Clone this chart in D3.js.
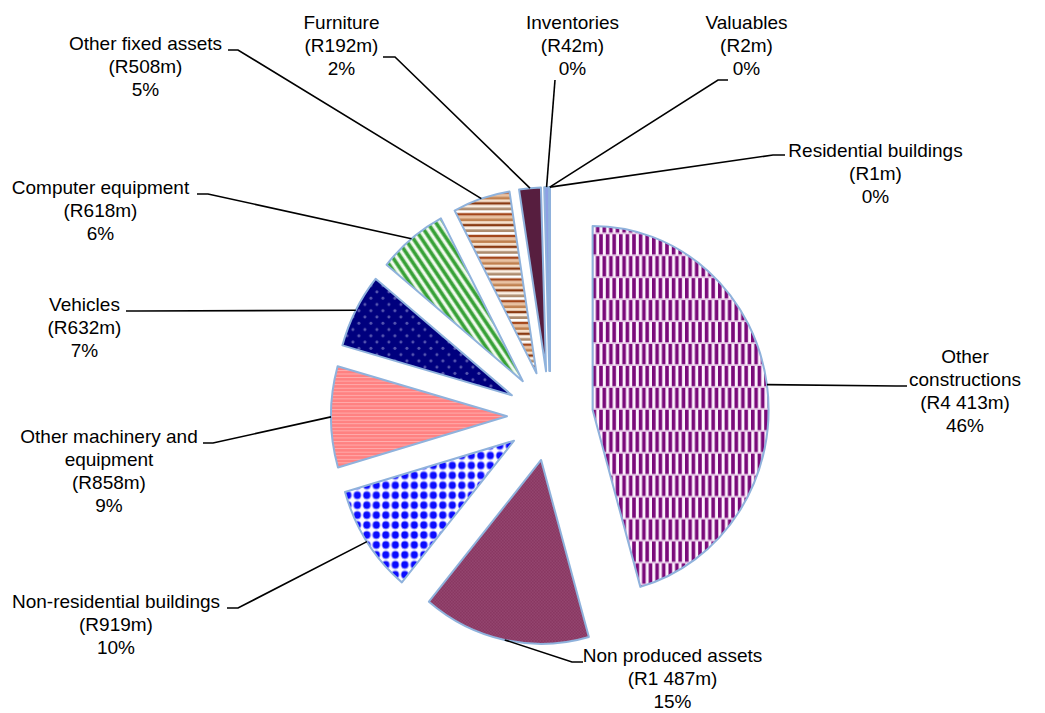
<!DOCTYPE html>
<html>
<head>
<meta charset="utf-8">
<script src="https://cdn.jsdelivr.net/npm/d3@7"></script>
<style>
  html, body { margin: 0; padding: 0; background: #ffffff; }
  svg { display: block; font-family: "Liberation Sans", Arial, Helvetica, sans-serif; }
</style>
</head>
<body>
<svg id="chart" width="1045" height="713"></svg>
<script>
// Capital formation by asset type, R million
const categories = [
  "Other constructions",
  "Non produced assets",
  "Non-residential buildings",
  "Other machinery and equipment",
  "Vehicles",
  "Computer equipment",
  "Other fixed assets",
  "Furniture",
  "Inventories",
  "Valuables",
  "Residential buildings"
];
const values = [4413, 1487, 919, 858, 632, 618, 508, 192, 42, 2, 1];

// Fill for each slice (patterns defined below)
const fills = ["url(#pOC)", "url(#pNPA)", "url(#pNRB)", "url(#pOME)", "url(#pVEH)",
               "url(#pCE)", "url(#pOFA)", "#571e3f", "#8d9fe4", "#a9c5ea", "#b3cdea"];

// Label placement: text centre, first baseline, wrap width, leader elbow and end
const labelLayout = [
  { cx: 965,   y: 363, wrap: 120, elbow: [896, 386], end: [907, 386] },
  { cx: 672.5, y: 662, wrap: 260, elbow: [572, 662], end: [583, 662] },
  { cx: 116,   y: 608, wrap: 260, elbow: [238, 608], end: [227, 608] },
  { cx: 109,   y: 443, wrap: 190, elbow: [213, 443], end: [203, 443] },
  { cx: 84.5,  y: 311, wrap: 200, elbow: [137, 311], end: [126, 311] },
  { cx: 100.5, y: 194, wrap: 260, elbow: [208, 194], end: [197, 194] },
  { cx: 145.5, y: 50,  wrap: 260, elbow: [238, 50],  end: [228, 50] },
  { cx: 341.5, y: 29,  wrap: 200, elbow: [395, 57],  end: [383, 57] },
  { cx: 572.5, y: 29,  wrap: 200, elbow: [555, 80],  end: [555, 80] },
  { cx: 746.5, y: 29,  wrap: 200, elbow: [718, 80],  end: [728, 80] },
  { cx: 875.5, y: 157, wrap: 260, elbow: [773, 155], end: [785, 155] }
];

const W = 1045, H = 713;
const cx0 = 550, cy0 = 416;   // pie centre
const R = 176;                // radius (horizontal)
const sy = 1.045;             // slight vertical stretch of the plot
const explode = 43;           // distance each slice is pulled out
const fontSize = 19, lineH = 23;

const svg = d3.select("#chart");
const defs = svg.append("defs");

// ---- pattern fills ----
function pattern(id, w, h, extra) {
  const p = defs.append("pattern").attr("id", id)
    .attr("patternUnits", "userSpaceOnUse").attr("width", w).attr("height", h);
  if (extra) p.attr("patternTransform", extra);
  return p;
}
// purple/white brick checker
{
  const p = pattern("pOC", 6.6, 42);
  p.append("rect").attr("width", 6.6).attr("height", 42).attr("fill", "#fdf4fd");
  const c = "#7a0a7a";
  p.append("rect").attr("x", 0).attr("y", 0).attr("width", 3.6).attr("height", 19.6).attr("fill", c);
  p.append("rect").attr("x", 3.3).attr("y", 21).attr("width", 3.6).attr("height", 19.6).attr("fill", c);
  p.append("rect").attr("x", -3.3).attr("y", 21).attr("width", 3.6).attr("height", 19.6).attr("fill", c);
  p.append("rect").attr("x", 0).attr("y", 19.6).attr("width", 6.6).attr("height", 1.4).attr("fill", "#e6c6e6");
  p.append("rect").attr("x", 0).attr("y", 40.6).attr("width", 6.6).attr("height", 1.4).attr("fill", "#e6c6e6");
}
// fine-textured maroon
{
  const p = pattern("pNPA", 3, 3);
  p.append("rect").attr("width", 3).attr("height", 3).attr("fill", "#883660");
  p.append("rect").attr("width", 1.5).attr("height", 1.5).attr("fill", "#944670");
  p.append("rect").attr("x", 1.5).attr("y", 1.5).attr("width", 1.5).attr("height", 1.5).attr("fill", "#944670");
}
// blue dotted grid
{
  const p = pattern("pNRB", 9.5, 9.5);
  p.append("rect").attr("width", 9.5).attr("height", 9.5).attr("fill", "#ffffff");
  p.append("circle").attr("cx", 4.75).attr("cy", 4.75).attr("r", 4.2).attr("fill", "#9a9aff");
  p.append("circle").attr("cx", 4.75).attr("cy", 4.75).attr("r", 3.3).attr("fill", "#0c0cff");
}
// salmon with fine horizontal lines
{
  const p = pattern("pOME", 4, 3.4);
  p.append("rect").attr("width", 4).attr("height", 3.4).attr("fill", "#ff8181");
  p.append("rect").attr("width", 4).attr("height", 0.9).attr("fill", "#ffaeae");
}
// navy with small dots
{
  const p = pattern("pVEH", 12, 12);
  p.append("rect").attr("width", 12).attr("height", 12).attr("fill", "#00007e");
  p.append("circle").attr("cx", 3).attr("cy", 3).attr("r", 1.5).attr("fill", "#5858b0");
  p.append("circle").attr("cx", 9).attr("cy", 9).attr("r", 1.5).attr("fill", "#5858b0");
}
// green diagonal stripes
{
  const p = pattern("pCE", 6.8, 10, "rotate(-35)");
  p.append("rect").attr("width", 6.8).attr("height", 10).attr("fill", "#f3faf1");
  p.append("rect").attr("x", 0).attr("width", 4.4).attr("height", 10).attr("fill", "#a8d8a2");
  p.append("rect").attr("x", 0.7).attr("width", 3).attr("height", 10).attr("fill", "#35a035");
}
// brown horizontal bands
{
  const bands = ["#f6e0cb", "#8a3a12", "#fbefe3", "#ad8b6e", "#ffffff", "#a3461b", "#e9c2a2", "#c0804f"];
  const bh = 2.6;
  const p = pattern("pOFA", 8, bands.length * bh);
  bands.forEach((c, i) => p.append("rect").attr("x", 0).attr("y", i * bh)
    .attr("width", 8).attr("height", bh + 0.05).attr("fill", c));
}

// ---- pie ----
const arcs = d3.pie().sort(null).value(d => d)(values);
const total = d3.sum(values);
const arcGen = d3.arc().innerRadius(0).outerRadius(R);
const mid = d => (d.startAngle + d.endAngle) / 2;

const gPie = svg.append("g")
  .attr("transform", `translate(${cx0},${cy0}) scale(1,${sy})`);

gPie.selectAll("path.slice")
  .data(arcs)
  .join("path")
  .attr("class", "slice")
  .attr("transform", d => `translate(${explode * Math.sin(mid(d))},${-explode * Math.cos(mid(d))})`)
  .attr("d", arcGen)
  .attr("fill", (d, i) => fills[i])
  .attr("stroke", "#8fb2dc")
  .attr("stroke-width", 2)
  .attr("stroke-linejoin", "round")
  .attr("vector-effect", "non-scaling-stroke");

// ---- leader lines ----
const gLead = svg.append("g");
arcs.forEach((d, i) => {
  const m = mid(d);
  const px = cx0 + (explode + R) * Math.sin(m);
  const py = cy0 - (explode + R) * Math.cos(m) * sy;
  const L = labelLayout[i];
  gLead.append("path")
    .attr("d", d3.line()([[px, py], L.elbow, L.end]))
    .attr("fill", "none")
    .attr("stroke", "#000")
    .attr("stroke-width", 1.6);
});

// ---- labels ----
const fmtValue = v => "(R" + d3.format(",")(v).replace(/,/g, " ") + "m)";
const fmtPct = v => Math.round(v / total * 100) + "%";

const gLab = svg.append("g")
  .attr("font-size", fontSize)
  .attr("fill", "#000")
  .attr("text-anchor", "middle");

// measuring helper for word wrapping
const meas = svg.append("text").attr("font-size", fontSize).attr("visibility", "hidden");
function wrapWords(str, width) {
  const words = str.split(" ");
  const lines = [];
  let cur = "";
  words.forEach(w => {
    const test = cur ? cur + " " + w : w;
    meas.text(test);
    if (cur && meas.node().getComputedTextLength() > width) {
      lines.push(cur);
      cur = w;
    } else cur = test;
  });
  if (cur) lines.push(cur);
  return lines;
}

categories.forEach((name, i) => {
  const L = labelLayout[i];
  const lines = wrapWords(name, L.wrap).concat([fmtValue(values[i]), fmtPct(values[i])]);
  const t = gLab.append("text").attr("x", L.cx).attr("y", L.y);
  lines.forEach((ln, k) => {
    t.append("tspan").attr("x", L.cx).attr("y", L.y + k * lineH).text(ln);
  });
});
meas.remove();
</script>
</body>
</html>
